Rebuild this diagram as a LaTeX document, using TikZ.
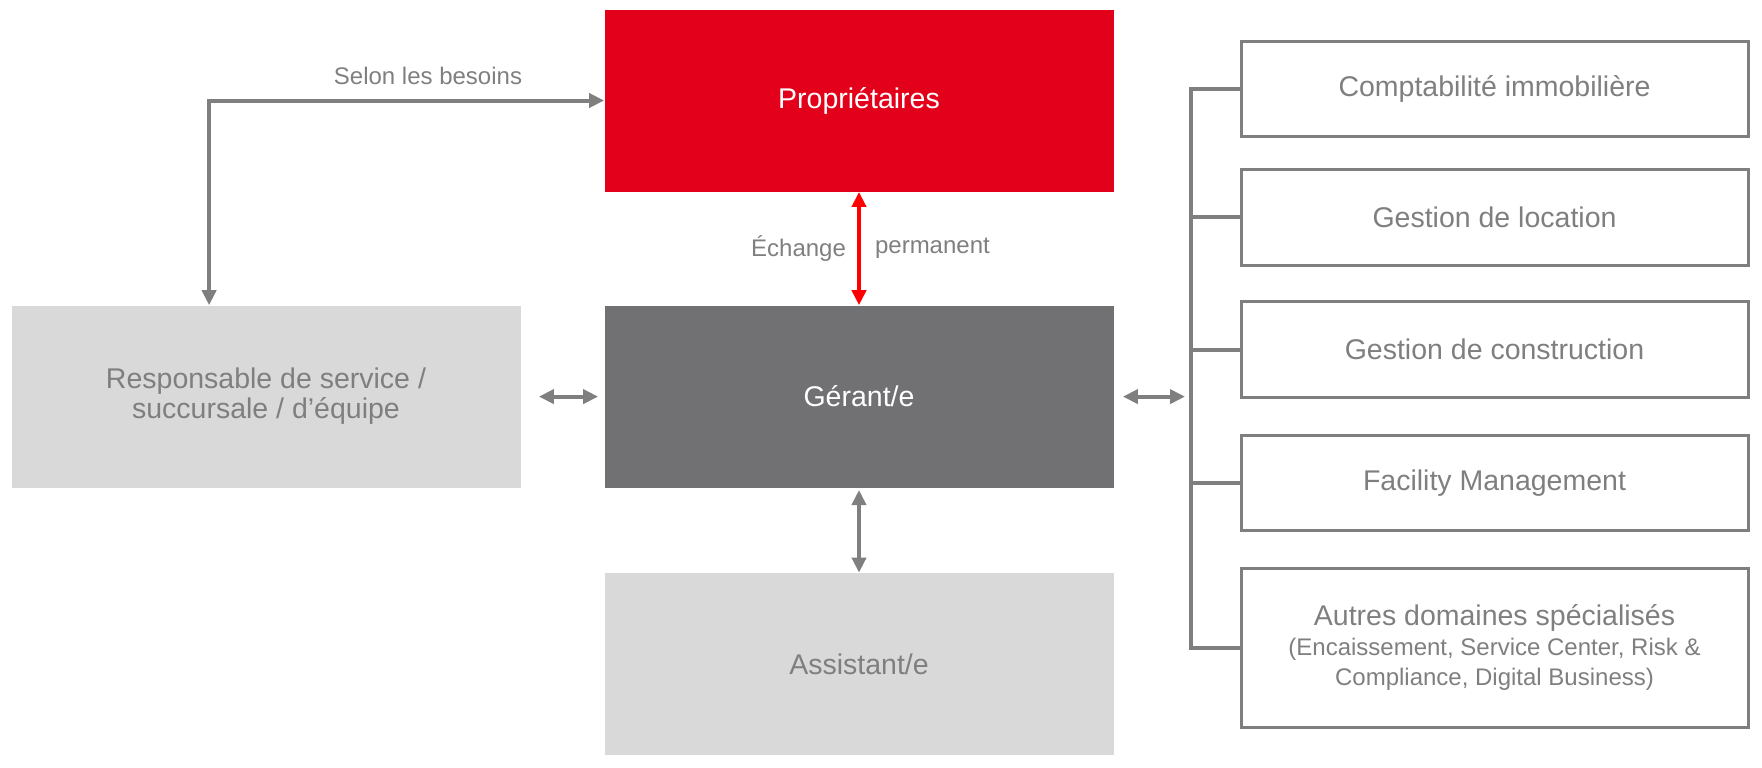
\documentclass[tikz,border=0pt]{standalone}
\usepackage{fontspec}
\setmainfont{Liberation Sans}
\usepackage{xcolor}
\usepackage{tikz}
\usetikzlibrary{arrows.meta}
\definecolor{boxred}{HTML}{E2001A}
\definecolor{boxdark}{HTML}{717174}
\definecolor{boxlight}{HTML}{D9D9D9}
\definecolor{txtgray}{HTML}{7F7F7F}
\newcommand{\bigtxt}{\fontsize{14.25}{15}\selectfont}
\newcommand{\lbltxt}{\fontsize{12}{15}\selectfont}

\begin{document}
\begin{tikzpicture}[x=0.5pt, y=-0.5pt,
    mainbox/.style={minimum width=254.5pt, minimum height=91pt, inner sep=0pt, align=center, font=\bigtxt},
    sidebox/.style={draw=txtgray, line width=1.5pt, minimum width=253.5pt, inner sep=0pt, align=center, font=\bigtxt, text=txtgray},
    garrow/.style={{Triangle[length=7.5pt,width=7pt]}-{Triangle[length=7.5pt,width=7pt]}, line width=2pt, txtgray},
    bus/.style={line width=2pt, txtgray}]
  \useasboundingbox (0,0) rectangle (1762,767);
  \node[mainbox, fill=boxred, text=white] (prop) at (859,100.5) {Propriétaires};
  \node[mainbox, fill=boxdark, text=white] (ger) at (859,396.6) {Gérant/e};
  \node[mainbox, fill=boxlight, text=txtgray] (asst) at (859,664) {Assistant/e};
  \node[mainbox, fill=boxlight, text=txtgray] (resp) at (266,396.6) {Responsable de service /\\ succursale / d’équipe};
  \node[sidebox, minimum height=47.5pt] (r1) at (1494.5,89.3) {Comptabilité immobilière};
  \node[sidebox, minimum height=48pt] (r2) at (1494.5,217) {Gestion de location};
  \node[sidebox, minimum height=48pt] (r3) at (1494.5,349.5) {Gestion de construction};
  \node[sidebox, minimum height=47.5pt] (r4) at (1494.5,482.7) {Facility Management};
  \node[sidebox, minimum height=79.5pt, text depth=3pt] (r5) at (1494.5,648.3) {Autres domaines spécialisés\\ \lbltxt(Encaissement, Service Center, Risk \&\\ \lbltxt Compliance, Digital Business)};
  \coordinate (bus) at (1191,0);
  % links
  \node[font=\lbltxt, text=txtgray] (need) at (428,76) {Selon les besoins};
  \draw[garrow] (prop.west) -| ([xshift=99pt]resp.north west);
  \draw[garrow, red] (prop.south) -- (ger.north);
  \node[font=\lbltxt, text=txtgray, anchor=east] (exch) at (853,248.5) {Échange};
  \node[font=\lbltxt, text=txtgray, anchor=west] (perm) at (868,248.5) {permanent};
  \draw[garrow, shorten <=9pt, shorten >=3pt] (resp.east) -- (ger.west);
  \draw[garrow, shorten <=4.5pt, shorten >=3pt] (ger.east) -- (ger.east -| bus);
  \draw[garrow, shorten <=1pt] (ger.south) -- (asst.north);
  \draw[bus] (r1.west) -| (r5.west -| bus) -- (r5.west);
  \foreach \n in {2,3,4}
    \draw[bus] (r\n.west) -- (r\n.west -| bus);
\end{tikzpicture}
\end{document}
